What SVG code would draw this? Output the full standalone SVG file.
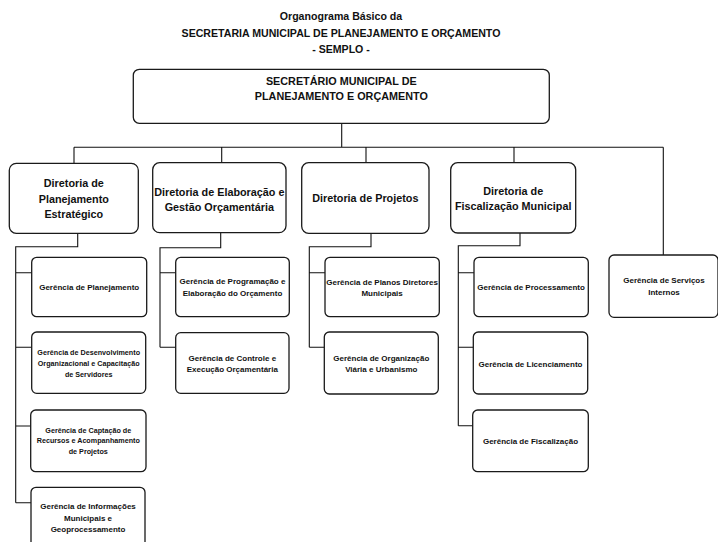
<svg xmlns="http://www.w3.org/2000/svg" width="718" height="542" viewBox="0 0 718 542">
<style>
text{font-family:"Liberation Sans",Arial,sans-serif;font-weight:bold;fill:#111;text-anchor:middle}
.t{font-size:10.6px}
.d{font-size:10.8px}
.g{font-size:8px}
.s{font-size:7.2px}
rect{fill:#fff;stroke:#1a1a1a;stroke-width:1.3}
.c path{fill:none;stroke:#111;stroke-width:1.1}
</style>
<rect x="0" y="0" width="718" height="542" style="stroke:none;fill:#fff"/>
<g id="title">
<text class="t" x="341" y="19.5">Organograma Básico da</text>
<text class="t" x="341" y="37">SECRETARIA MUNICIPAL DE PLANEJAMENTO E ORÇAMENTO</text>
<text class="t" x="341" y="53">- SEMPLO -</text>
</g>
<g class="c" id="connectors">
<path d="M341.7 123.3V147.3M74 147.3H663.3M74 147.3V163.3M221.7 147.3V162.7M366 147.3V162.7M514 147.3V162.7M663.3 147.3V255"/>
<path d="M77.7 233.3V246.7H15.7V502.7M15.7 272.7H31.7M15.7 347.3H31.7M15.7 426H30.7M15.7 502.7H31"/>
<path d="M220.7 232.7V247.7H160V347.3M160 272.7H175.7M160 347.3H175.7"/>
<path d="M371 233.3V246.7H309.3V347.3M309.3 272.7H325M309.3 347.3H324.3"/>
<path d="M520 233V245.7H458.3V425.7M458.3 272.7H474M458.3 347.3H473.3M458.3 425.7H472.7"/>
</g>
<g id="secretario">
<rect x="133.3" y="69.3" width="416" height="54" rx="6"/>
<text class="d" x="341.3" y="85">SECRETÁRIO MUNICIPAL DE</text>
<text class="d" x="341.3" y="100">PLANEJAMENTO E ORÇAMENTO</text>
</g>
<g id="dir-planejamento">
<rect x="9.3" y="163.3" width="129" height="70" rx="7"/>
<text class="d" x="73.8" y="187.3">Diretoria de</text>
<text class="d" x="73.8" y="202.7">Planejamento</text>
<text class="d" x="73.8" y="218">Estratégico</text>
</g>
<g id="dir-elaboracao">
<rect x="152.7" y="162.7" width="133.3" height="70" rx="7"/>
<text class="d" x="219.3" y="195.5">Diretoria de Elaboração e</text>
<text class="d" x="219.3" y="210.5">Gestão Orçamentária</text>
</g>
<g id="dir-projetos">
<rect x="301.7" y="162.7" width="127.3" height="70.6" rx="7"/>
<text class="d" x="365.3" y="201.5">Diretoria de Projetos</text>
</g>
<g id="dir-fiscalizacao">
<rect x="450.7" y="162.7" width="125" height="70.3" rx="7"/>
<text class="d" x="513.2" y="195">Diretoria de</text>
<text class="d" x="513.2" y="210">Fiscalização Municipal</text>
</g>
<g id="g-planejamento">
<rect x="31.7" y="257.3" width="115" height="59.4" rx="5"/>
<text class="g" x="89.2" y="289.5">Gerência de Planejamento</text>
</g>
<g id="g-desenvolvimento">
<rect x="31.7" y="332" width="114" height="61.3" rx="5"/>
<text class="s" x="88.7" y="355.4">Gerência de Desenvolvimento</text>
<text class="s" x="88.7" y="366">Organizacional e Capacitação</text>
<text class="s" x="88.7" y="376.7">de Servidores</text>
</g>
<g id="g-captacao">
<rect x="30.7" y="410" width="115.3" height="61.7" rx="5"/>
<text class="s" x="88.3" y="432.6">Gerência de Captação de</text>
<text class="s" x="88.3" y="443">Recursos e Acompanhamento</text>
<text class="s" x="88.3" y="453.6">de Projetos</text>
</g>
<g id="g-informacoes">
<rect x="31" y="487.3" width="114" height="62" rx="5"/>
<text class="g" x="88" y="508.7">Gerência de Informações</text>
<text class="g" x="88" y="520.7">Municipais e</text>
<text class="g" x="88" y="532.3">Geoprocessamento</text>
</g>
<g id="g-programacao">
<rect x="175.7" y="257.3" width="113.6" height="59.4" rx="5"/>
<text class="g" x="232.5" y="283.5">Gerência de Programação e</text>
<text class="g" x="232.5" y="296">Elaboração do Orçamento</text>
</g>
<g id="g-controle">
<rect x="175.7" y="332.7" width="113.3" height="60.6" rx="5"/>
<text class="g" x="232.3" y="360.5">Gerência de Controle e</text>
<text class="g" x="232.3" y="372">Execução Orçamentária</text>
</g>
<g id="g-planos">
<rect x="325" y="257.3" width="114.3" height="59.4" rx="5"/>
<text class="g" x="382.1" y="284.5">Gerência de Planos Diretores</text>
<text class="g" x="382.1" y="296">Municipais</text>
</g>
<g id="g-organizacao">
<rect x="324.3" y="332" width="114" height="62" rx="5"/>
<text class="g" x="381.3" y="360.5">Gerência de Organização</text>
<text class="g" x="381.3" y="372">Viária e Urbanismo</text>
</g>
<g id="g-processamento">
<rect x="474" y="257.3" width="114.3" height="59.4" rx="5"/>
<text class="g" x="531.1" y="289.5">Gerência de Processamento</text>
</g>
<g id="g-licenciamento">
<rect x="473.3" y="332" width="114.4" height="62" rx="5"/>
<text class="g" x="530.5" y="367">Gerência de Licenciamento</text>
</g>
<g id="g-fiscalizacao">
<rect x="472.7" y="410" width="115.6" height="61.7" rx="5"/>
<text class="g" x="530.5" y="443.5">Gerência de Fiscalização</text>
</g>
<g id="g-servicos">
<rect x="609" y="255" width="109" height="62.3" rx="5"/>
<text class="g" x="664" y="283">Gerência de Serviços</text>
<text class="g" x="664" y="295">Internos</text>
</g>
</svg>
